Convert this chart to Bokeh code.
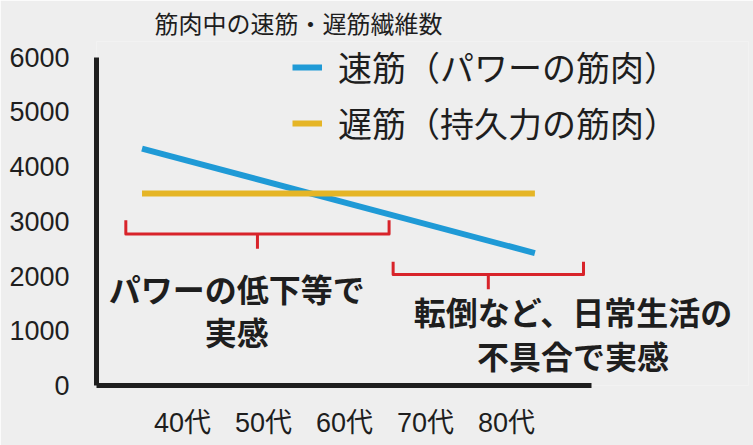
from bokeh.plotting import figure
from bokeh.models import Range1d, FixedTicker, Legend, LegendItem, ColumnDataSource
from bokeh.core.properties import value
from bokeh.embed import file_html
from bokeh.resources import INLINE

# ---- data ----
title_text = "筋肉中の速筋・遅筋繊維数"
decade_labels = ["40代", "50代", "60代", "70代", "80代"]
decade_mid = [45, 55, 65, 75, 85]
y_ticks = [0, 1000, 2000, 3000, 4000, 5000, 6000]

line_age = [40, 88.5]
fast_fibers = [4330, 2420]
slow_fibers = [3510, 3510]
fast_label = "速筋（パワーの筋肉）"
slow_label = "遅筋（持久力の筋肉）"

bracket_from = [38, 71]
bracket_to = [70.5, 94.5]
bracket_top = [3020, 2260]
bracket_base = [2770, 2030]
bracket_tip = [2500, 1760]

note_lines = ["パワーの低下等で", "実感", "転倒など、日常生活の", "不具合で実感"]
note_x = [51.7, 51.7, 93.2, 93.2]
note_y = [1780, 1000, 1360, 560]

BG = "#eeeeee"
BLUE = "#1f9ad6"
YELLOW = "#e5b526"
RED = "#d8232a"
INK = "#1e1e1e"
JP = "Noto Sans CJK JP"

p = figure(width=753, height=445, output_backend="svg", toolbar_location=None,
           x_range=Range1d(34.38, 114.87), y_range=Range1d(0, 6288),
           min_border_left=96, min_border_right=5, min_border_top=36, min_border_bottom=60)
p.background_fill_color = BG
p.border_fill_color = BG
p.outline_line_color = None
p.grid.visible = False

p.title.text = title_text
p.title.text_font = JP
p.title.text_font_size = "24px"
p.title.text_font_style = "normal"
p.title.text_color = INK
p.title.align = "left"
p.title.offset = 58
p.title.standoff = 4

# axes
for ax in (p.xaxis[0], p.yaxis[0]):
    ax.axis_line_width = 5
    ax.axis_line_color = INK
    ax.major_tick_line_color = None
    ax.minor_tick_line_color = None
    ax.major_label_text_font = "Liberation Sans, Noto Sans CJK JP"
    ax.major_label_text_color = INK

p.yaxis[0].ticker = FixedTicker(ticks=y_ticks)
p.yaxis[0].bounds = (y_ticks[0], y_ticks[-1])
p.yaxis[0].major_label_standoff = 21
p.yaxis[0].major_label_text_font_size = "27px"

p.xaxis[0].ticker = FixedTicker(ticks=decade_mid)
p.xaxis[0].major_label_overrides = {m: l for m, l in zip(decade_mid, decade_labels)}
p.xaxis[0].bounds = (34.38, 95.5)
p.xaxis[0].major_label_standoff = 16
p.xaxis[0].major_label_text_font_size = "27px"

# lines
r_fast = p.line(line_age, fast_fibers, line_color=BLUE, line_width=6)
r_slow = p.line(line_age, slow_fibers, line_color=YELLOW, line_width=6)

# brackets
xs, ys = [], []
for x0, x1, t, b, tip in zip(bracket_from, bracket_to, bracket_top, bracket_base, bracket_tip):
    xs.append([x0, x0, x1, x1]); ys.append([t, b, b, t])
    xc = (x0 + x1) / 2
    xs.append([xc, xc]); ys.append([b, tip])
p.multi_line(xs, ys, line_color=RED, line_width=3, line_join="round")

# notes
src = ColumnDataSource(dict(x=note_x, y=note_y, t=note_lines))
p.text("x", "y", text="t", source=src, text_font=value(JP), text_font_size="32px",
       text_font_style="bold", text_color=INK, text_align="center", text_baseline="middle")

legend = Legend(items=[LegendItem(label=fast_label, renderers=[r_fast]),
                       LegendItem(label=slow_label, renderers=[r_slow])],
                location=(196, 238), orientation="vertical")
legend.background_fill_alpha = 0
legend.border_line_alpha = 0
legend.padding = 0
legend.margin = 0
legend.glyph_width = 30
legend.glyph_height = 48
legend.label_height = 48
legend.label_width = 380
legend.spacing = 7
legend.label_standoff = 16
legend.label_text_font = JP
legend.label_text_font_size = "34px"
legend.label_text_color = INK
p.add_layout(legend)

open("out.html", "w").write(file_html(p, INLINE))
